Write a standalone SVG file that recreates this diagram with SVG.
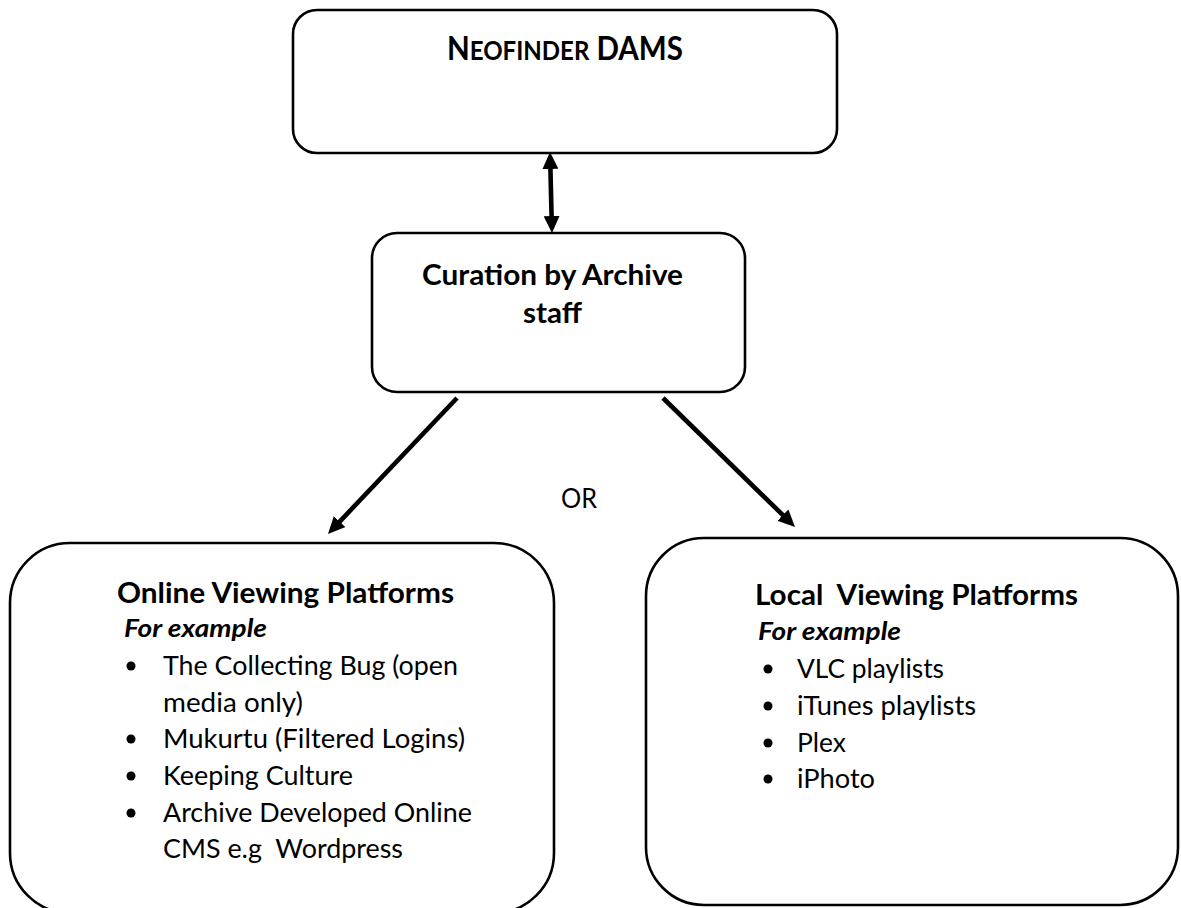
<svg xmlns="http://www.w3.org/2000/svg" width="1181" height="908" viewBox="0 0 1181 908">
<defs>
<style>
.box{fill:#fff;stroke:#000;stroke-width:2.6}
.conn{stroke:#000;stroke-width:4.6;fill:none}
.t{font-family:Lato,"Open Sans","Liberation Sans",sans-serif;fill:#000}
.b{font-weight:bold}
.body{font-size:26.5px}
.head{font-size:28.5px;font-weight:bold}
.ex{font-size:25px;font-weight:bold;font-style:italic}
</style>
<marker id="ah" markerUnits="userSpaceOnUse" markerWidth="17" markerHeight="16" refX="3" refY="8" orient="auto-start-reverse">
<path d="M0,0 L17,8 L0,16 z" fill="#000"/>
</marker>
</defs>
<rect width="1181" height="908" fill="#fff"/>

<g id="connectors">
<line class="conn" x1="550.35" y1="166" x2="551.65" y2="219" marker-start="url(#ah)" marker-end="url(#ah)"/>
<line class="conn" x1="457" y1="398" x2="337.6" y2="523.8" marker-end="url(#ah)"/>
<line class="conn" x1="663" y1="398" x2="785" y2="517.2" marker-end="url(#ah)"/>
</g>

<g id="node-neofinder">
<rect class="box" x="293" y="10" width="544" height="143" rx="24"/>
<text class="t b" x="447" y="60" textLength="236" lengthAdjust="spacingAndGlyphs"><tspan font-size="32">N</tspan><tspan font-size="26">EOFINDER</tspan><tspan font-size="32"> DAMS</tspan></text>
</g>

<g id="node-curation">
<rect class="box" x="372" y="233" width="373" height="159" rx="25"/>
<text class="t b" x="422" y="285" font-size="28.5" textLength="261" lengthAdjust="spacingAndGlyphs">Curation by Archive</text>
<text class="t b" x="523" y="323" font-size="28.5" textLength="59" lengthAdjust="spacingAndGlyphs">staff</text>
</g>

<g id="label-or">
<text class="t" x="561" y="508" font-size="27" textLength="36" lengthAdjust="spacingAndGlyphs">OR</text>
</g>

<g id="node-online">
<rect class="box" x="10" y="543" width="544" height="370" rx="60"/>
<text class="t head" x="117" y="603" textLength="337" lengthAdjust="spacingAndGlyphs">Online Viewing Platforms</text>
<text class="t ex" x="124" y="637" textLength="143" lengthAdjust="spacingAndGlyphs">For example</text>
<circle cx="131" cy="666" r="4.5"/>
<text class="t body" x="163" y="675" textLength="295" lengthAdjust="spacingAndGlyphs">The Collecting Bug (open</text>
<text class="t body" x="163" y="712" textLength="140" lengthAdjust="spacingAndGlyphs">media only)</text>
<circle cx="131" cy="739" r="4.5"/>
<text class="t body" x="163" y="748" textLength="302" lengthAdjust="spacingAndGlyphs">Mukurtu (Filtered Logins)</text>
<circle cx="131" cy="776" r="4.5"/>
<text class="t body" x="163" y="785" textLength="190" lengthAdjust="spacingAndGlyphs">Keeping Culture</text>
<circle cx="131" cy="813" r="4.5"/>
<text class="t body" x="163" y="822" textLength="309" lengthAdjust="spacingAndGlyphs">Archive Developed Online</text>
<text class="t body" x="163" y="858" textLength="240" lengthAdjust="spacingAndGlyphs" xml:space="preserve">CMS e.g  Wordpress</text>
</g>

<g id="node-local">
<rect class="box" x="646" y="538" width="532" height="367" rx="58"/>
<text class="t head" x="755" y="605" textLength="323" lengthAdjust="spacingAndGlyphs" xml:space="preserve">Local  Viewing Platforms</text>
<text class="t ex" x="758" y="640" textLength="143" lengthAdjust="spacingAndGlyphs">For example</text>
<circle cx="768" cy="669" r="4.5"/>
<text class="t body" x="797" y="678" textLength="147" lengthAdjust="spacingAndGlyphs">VLC playlists</text>
<circle cx="768" cy="706" r="4.5"/>
<text class="t body" x="797" y="715" textLength="179" lengthAdjust="spacingAndGlyphs">iTunes playlists</text>
<circle cx="768" cy="743" r="4.5"/>
<text class="t body" x="797" y="752" textLength="49" lengthAdjust="spacingAndGlyphs">Plex</text>
<circle cx="768" cy="779" r="4.5"/>
<text class="t body" x="797" y="788" textLength="78" lengthAdjust="spacingAndGlyphs">iPhoto</text>
</g>
</svg>
